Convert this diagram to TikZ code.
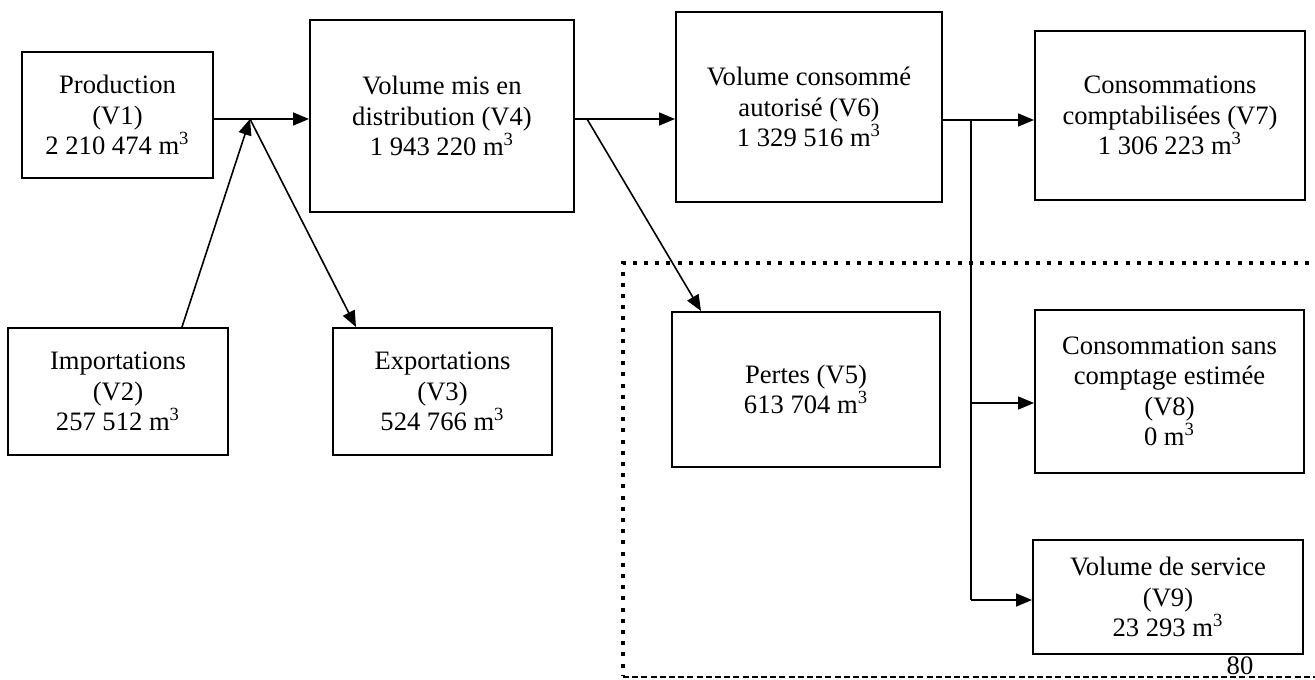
\documentclass[tikz,border=0pt]{standalone}
\usepackage{fontspec}
\setmainfont{Liberation Serif}
\usetikzlibrary{arrows.meta}

\tikzset{
  boite/.style={draw, line width=1pt, align=center, inner sep=0pt, font=\fontsize{13.3}{15.2}\selectfont},
  fleche/.style={line width=0.8pt, -{Triangle[length=8pt,width=6.5pt]}},
  trait/.style={line width=0.8pt},
}

\begin{document}
\begin{tikzpicture}[x=0.5pt,y=0.5pt,yscale=-1,xscale=1]
\useasboundingbox (0,0) rectangle (1315,679); %same size as the original page


%Pertes frame
\draw [line width=2pt, dash pattern=on 2pt off 3.6pt] (1320,263) -- (623,263) -- (623,675) ;
\draw [line width=1pt, dash pattern=on 3pt off 1.6pt] (623,677) -- (1320,677) ;
\node [font=\fontsize{13.3}{13.3}\selectfont] (page) at (1240,666) {80};


%Boxes
\node [boite, minimum width=95.5pt, minimum height=63pt] (prod) at (117.5,115) {Production\\(V1)\\2 210 474 m\textsuperscript{3}};
\node [boite, minimum width=110pt, minimum height=63.5pt] (imp) at (118,391.5) {Importations\\(V2)\\257 512 m\textsuperscript{3}};
\node [boite, minimum width=132pt, minimum height=96pt] (v4) at (442,116) {Volume mis en\\distribution (V4)\\1 943 220 m\textsuperscript{3}};
\node [boite, minimum width=109.5pt, minimum height=63.5pt] (exp) at (442.5,391.5) {Exportations\\(V3)\\524 766 m\textsuperscript{3}};
\node [boite, minimum width=133pt, minimum height=95pt] (v6) at (809,107) {Volume consommé\\autorisé (V6)\\1 329 516 m\textsuperscript{3}};
\node [boite, minimum width=134pt, minimum height=77.5pt] (pertes) at (806,389.5) {Pertes (V5)\\613 704 m\textsuperscript{3}};
\node [boite, minimum width=135pt, minimum height=84.5pt] (v7) at (1170,115.5) {Consommations\\comptabilisées (V7)\\1 306 223 m\textsuperscript{3}};
\node [boite, minimum width=134.5pt, minimum height=81.5pt] (v8) at (1169.5,391.5) {Consommation sans\\comptage estimée\\(V8)\\0 m\textsuperscript{3}};
\node [boite, minimum width=135pt, minimum height=57pt] (v9) at (1168,597) {Volume de service\\(V9)\\23 293 m\textsuperscript{3}};


%Junctions
\coordinate (j1) at (250,119);
\coordinate (j2) at (587,119);
\coordinate (j3) at (971,120);
\coordinate (j4) at (971,403);
\coordinate (j5) at (971,600);
\coordinate (impout) at ([xshift=32pt]imp.north);
\coordinate (expin) at ([xshift=12pt]exp.north west);
\coordinate (pertin) at ([xshift=15pt]pertes.north west);


%Production, importations, exportations
\draw [fleche] (prod.east |- j1) -- (v4.west |- j1) ;
\draw [fleche] (impout) -- (j1) ;
\draw [fleche] (j1) -- (expin) ;

%Distribution
\draw [fleche] (v4.east |- j2) -- (v6.west |- j2) ;
\draw [fleche] (j2) -- (pertin) ;

%Consommation autorisee
\draw [fleche] (v6.east |- j3) -- (v7.west |- j3) ;
\draw [trait] (j3) -- (j5) ;
\draw [fleche] (j4) -- (v8.west |- j4) ;
\draw [fleche] (j5) -- (v9.west |- j5) ;

\end{tikzpicture}
\end{document}
